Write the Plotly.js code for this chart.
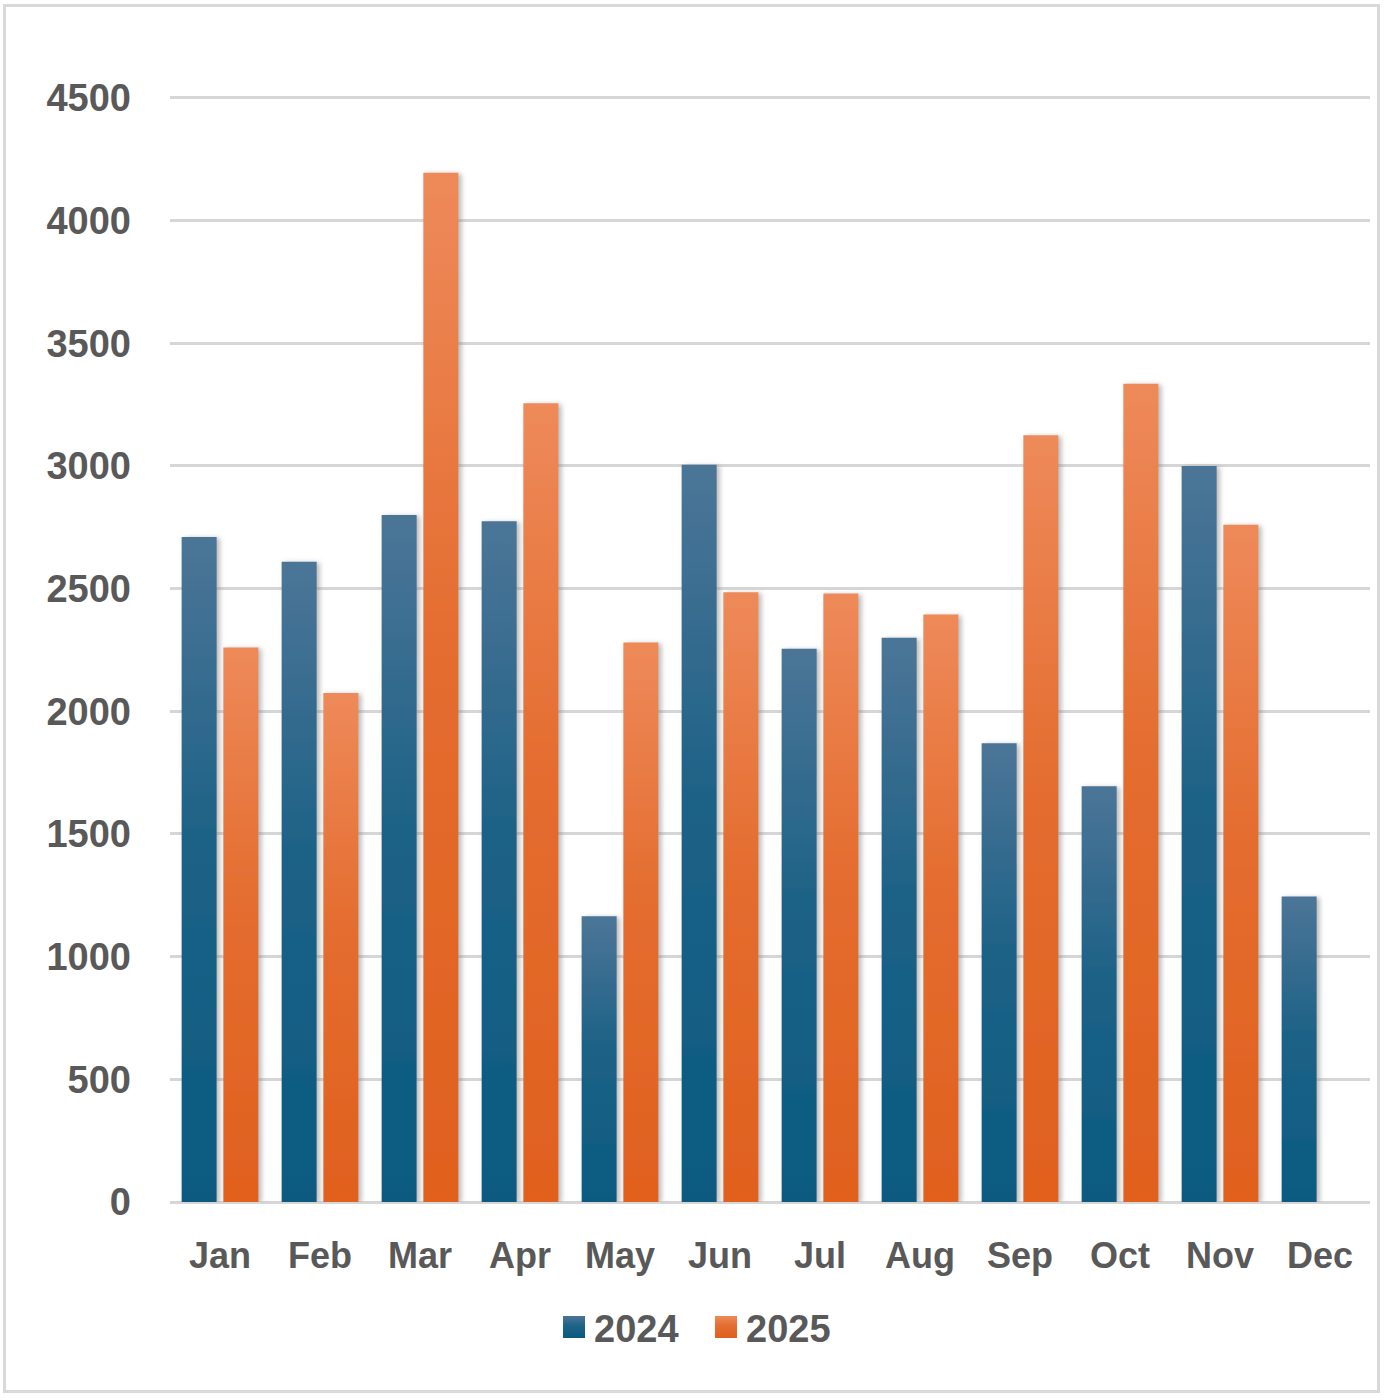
<!DOCTYPE html>
<html>
<head>
<meta charset="utf-8">
<script src="https://cdn.plot.ly/plotly-3.0.1.min.js"></script>
<style>
    body { margin: 0; background: #fff; }
    #chart { width: 1384px; height: 1400px; }
    #frame {
        position: absolute; left: 3px; top: 4px;
        width: 1371px; height: 1383px;
        border: 3px solid #d9d9d9; pointer-events: none;
    }
</style>
</head>
<body>
<div id="chart"></div>
<div id="frame"></div>
<script>
const months = ['Jan', 'Feb', 'Mar', 'Apr', 'May', 'Jun', 'Jul', 'Aug', 'Sep', 'Oct', 'Nov', 'Dec'];
const sales2024 = [2710, 2610, 2800, 2775, 1165, 3005, 2255, 2300, 1870, 1695, 3000, 1245];
const sales2025 = [2260, 2075, 4195, 3255, 2280, 2485, 2480, 2395, 3125, 3335, 2760, null];
const yTicks = [0, 500, 1000, 1500, 2000, 2500, 3000, 3500, 4000, 4500];

const textColor = '#595959';
const gridColor = '#d6d6d6';
const fontFamily = '"Liberation Sans", Arial, sans-serif';

// top and bottom colours of the vertical gradient of each series
const gradients = {
    g2024: ['#4c7597', '#0a5a80'],
    g2025: ['#ee8a5a', '#e0601e']
};

let traces = [
    { x: months, y: sales2024, name: '2024', type: 'bar', marker: { color: gradients.g2024[1] }, hoverinfo: 'none' },
    { x: months, y: sales2025, name: '2025', type: 'bar', marker: { color: gradients.g2025[1] }, hoverinfo: 'none' }
];

let layout = {
    width: 1384,
    height: 1400,
    margin: { l: 170, r: 14, t: 93, b: 198 },
    paper_bgcolor: '#fff',
    plot_bgcolor: '#fff',
    font: { family: fontFamily, size: 38, color: textColor, weight: 'bold' },
    barmode: 'group',
    bargap: 0.166,
    bargroupgap: 0.16,
    showlegend: true,
    legend: {
        orientation: 'h',
        xref: 'container', yref: 'container',
        x: 0.4003, xanchor: 'left',
        y: 0.052, yanchor: 'middle',
        font: { family: fontFamily, size: 38, color: textColor, weight: 'bold' },
        entrywidth: 107,
        entrywidthmode: 'pixels'
    },
    xaxis: {
        type: 'category',
        showgrid: false,
        showline: false,
        zeroline: false,
        ticks: '',
        ticklabelstandoff: 29,
        tickfont: { family: fontFamily, size: 36, color: textColor, weight: 'bold' }
    },
    yaxis: {
        range: [0, 4520],
        tickvals: yTicks,
        ticktext: yTicks.map(String),
        showgrid: true,
        gridcolor: gridColor,
        gridwidth: 3,
        zeroline: true,
        zerolinecolor: gridColor,
        zerolinewidth: 3,
        showline: false,
        ticks: '',
        ticklabelstandoff: 38,
        tickfont: { family: fontFamily, size: 38, color: textColor, weight: 'bold' }
    }
};

Plotly.newPlot('chart', traces, layout, { staticPlot: true }).then(gd => {
    let svg = gd.querySelector('svg.main-svg');
    let ns = 'http://www.w3.org/2000/svg';
    let defs = svg.querySelector('defs') || svg.insertBefore(document.createElementNS(ns, 'defs'), svg.firstChild);

    Object.entries(gradients).forEach(([id, [top, bottom]]) => {
        let grad = document.createElementNS(ns, 'linearGradient');
        grad.setAttribute('id', id);
        grad.setAttribute('x1', '0'); grad.setAttribute('y1', '0');
        grad.setAttribute('x2', '0'); grad.setAttribute('y2', '1');
        [[0, top], [0.45, bottom], [1, bottom]].forEach(([off, col], i) => {
            let stop = document.createElementNS(ns, 'stop');
            stop.setAttribute('offset', off);
            stop.setAttribute('stop-color', i === 1 ? mix(top, bottom, 0.7) : col);
            grad.appendChild(stop);
        });
        defs.appendChild(grad);
    });

    let shadow = document.createElementNS(ns, 'filter');
    shadow.setAttribute('id', 'barShadow');
    shadow.setAttribute('x', '-20%'); shadow.setAttribute('width', '150%');
    shadow.innerHTML = '<feDropShadow dx="3" dy="1" stdDeviation="2.5" flood-color="#7f7f7f" flood-opacity="0.55"/>';
    defs.appendChild(shadow);

    let ids = Object.keys(gradients);
    gd.querySelectorAll('.barlayer .trace.bars').forEach((g, i) => {
        g.querySelectorAll('path').forEach(p => {
            p.style.fill = `url(#${ids[i]})`;
            p.setAttribute('filter', 'url(#barShadow)');
        });
    });

    // larger square swatches in the legend
    gd.querySelectorAll('.legend .traces').forEach((g, i) => {
        let p = g.querySelector('.legendpoints path');
        if (p) {
            p.setAttribute('d', 'M11,11H-11V-11H11Z');
            p.style.fill = `url(#${ids[i]})`;
            p.style.stroke = 'none';
        }
    });
});

function mix(a, b, t) {
    let pa = [1, 3, 5].map(k => parseInt(a.substr(k, 2), 16));
    let pb = [1, 3, 5].map(k => parseInt(b.substr(k, 2), 16));
    return 'rgb(' + pa.map((v, k) => Math.round(v + (pb[k] - v) * t)).join(',') + ')';
}
</script>
</body>
</html>
